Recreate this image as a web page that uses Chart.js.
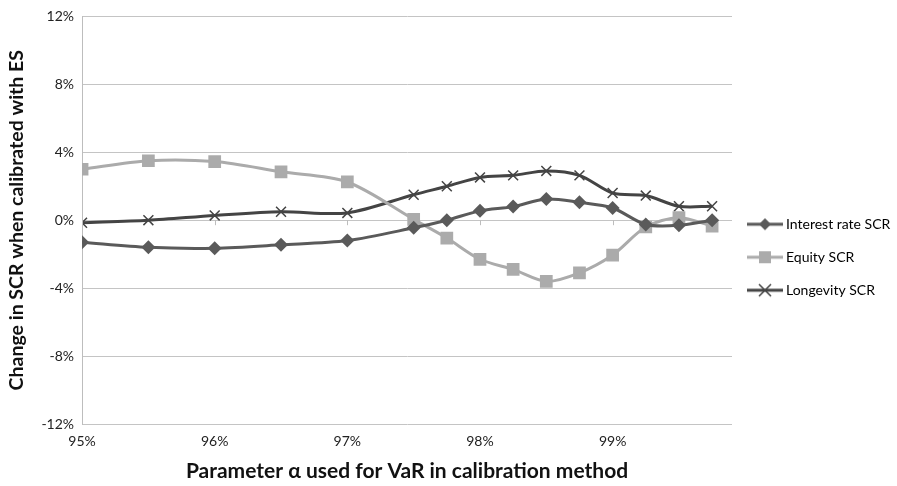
<!DOCTYPE html>
<html>
<head>
<meta charset="utf-8">
<script src="https://cdn.jsdelivr.net/npm/chart.js@4/dist/chart.umd.min.js"></script>
<style>
  html, body { margin: 0; padding: 0; background: #fff; }
  #wrap { width: 897px; height: 486px; }
</style>
</head>
<body>
<div id="wrap"><canvas id="scr-chart"></canvas></div>
<script>
// alpha levels (in %)
const alphas = [95, 95.5, 96, 96.5, 97, 97.5, 97.75, 98, 98.25, 98.5, 98.75, 99, 99.25, 99.5, 99.75];
// change in SCR (%)
const interestRate = [-1.3, -1.6, -1.65, -1.45, -1.2, -0.45, 0.0, 0.55, 0.8, 1.25, 1.05, 0.72, -0.25, -0.3, 0.0];
const equity = [3.0, 3.5, 3.45, 2.85, 2.25, 0.05, -1.05, -2.3, -2.9, -3.6, -3.1, -2.05, -0.4, 0.15, -0.35];
const longevity = [-0.15, 0.0, 0.28, 0.5, 0.43, 1.5, 2.0, 2.52, 2.64, 2.9, 2.64, 1.6, 1.45, 0.82, 0.82];
const xTicks = [95, 96, 97, 98, 99];
const yTicks = [-12, -8, -4, 0, 4, 8, 12];

const FONT = 'Lato, "Open Sans", sans-serif';

function toPoints(ys) {
    return alphas.map((a, i) => ({ x: a, y: ys[i] }));
}

// legend sample: short line with marker in the middle
function legendIcon(color, style) {
    const c = document.createElement('canvas');
    c.width = 36; c.height = 16;
    const g = c.getContext('2d');
    g.strokeStyle = color;
    g.fillStyle = color;
    g.lineWidth = 3;
    g.beginPath(); g.moveTo(0, 8); g.lineTo(36, 8); g.stroke();
    if (style === 'diamond') {
        g.beginPath(); g.moveTo(18, 2); g.lineTo(24, 8); g.lineTo(18, 14); g.lineTo(12, 8); g.closePath(); g.fill();
    } else if (style === 'square') {
        g.fillRect(12, 2, 12, 12);
    } else {
        g.lineWidth = 1.5;
        g.beginPath(); g.moveTo(12, 2); g.lineTo(24, 14); g.moveTo(24, 2); g.lineTo(12, 14); g.stroke();
    }
    return c;
}

const series = [
    { label: 'Interest rate SCR', data: interestRate, color: '#5a5a5a', style: 'rectRot', radius: 7, icon: 'diamond' },
    { label: 'Equity SCR', data: equity, color: '#ababab', style: 'rect', radius: 9, icon: 'square' },
    { label: 'Longevity SCR', data: longevity, color: '#444444', style: 'crossRot', radius: 7, icon: 'cross' }
];

// small downward tick marks on the 0% line, like the original
const zeroTicks = {
    id: 'zeroTicks',
    afterDatasetsDraw(chart) {
        const x = chart.scales.x, y = chart.scales.y;
        const y0 = y.getPixelForValue(0);
        const ctx = chart.ctx;
        ctx.save();
        ctx.strokeStyle = '#bdbdbd';
        ctx.lineWidth = 1;
        xTicks.forEach(v => {
            const px = Math.round(x.getPixelForValue(v)) + 0.5;
            ctx.beginPath(); ctx.moveTo(px, y0); ctx.lineTo(px, y0 + 5); ctx.stroke();
        });
        ctx.restore();
    }
};

// keep the legend column narrow so the plot keeps its width
const legendWidth = {
    id: 'legendWidth',
    afterInit(chart) {
        const lg = chart.legend;
        const fit = lg.fit;
        lg.fit = function () {
            fit.call(this);
            this.width = 165;
        };
    }
};

const ctx = document.getElementById('scr-chart').getContext('2d');
new Chart(ctx, {
    type: 'line',
    data: {
        datasets: series.map(s => ({
            label: s.label,
            data: toPoints(s.data),
            borderColor: s.color,
            backgroundColor: s.color,
            borderWidth: 3,
            pointStyle: s.style,
            pointRadius: s.radius,
            pointBorderWidth: s.style === 'crossRot' ? 1.5 : 0,
            pointBorderColor: s.color,
            pointBackgroundColor: s.color,
            tension: 0.3,
            fill: false,
            legendIcon: legendIcon(s.color, s.icon)
        }))
    },
    options: {
        responsive: true,
        maintainAspectRatio: false,
        animation: false,
        layout: { padding: { top: 8, right: 0, bottom: 2, left: 4 } },
        plugins: {
            tooltip: { enabled: false },
            legend: {
                position: 'right',
                title: { display: true, text: ' ', font: { size: 12 }, padding: 4 },
                labels: {
                    usePointStyle: true,
                    pointStyleWidth: 28,
                    color: '#000',
                    font: { family: FONT, size: 14 },
                    padding: 19,
                    generateLabels(chart) {
                        return chart.data.datasets.map((d, i) => ({
                            text: d.label,
                            pointStyle: d.legendIcon,
                            fillStyle: d.borderColor,
                            strokeStyle: d.borderColor,
                            lineWidth: 0,
                            hidden: false,
                            datasetIndex: i,
                            fontColor: '#000'
                        }));
                    }
                }
            }
        },
        scales: {
            x: {
                type: 'linear',
                min: 95,
                max: 99.9,
                afterBuildTicks(scale) { scale.ticks = xTicks.map(v => ({ value: v })); },
                grid: { display: false, drawTicks: false },
                border: { display: false },
                ticks: {
                    color: '#222',
                    font: { family: FONT, size: 14 },
                    padding: 9,
                    maxRotation: 0,
                    callback: v => v + '%'
                },
                title: {
                    display: true,
                    text: 'Parameter α used for VaR in calibration method',
                    color: '#111',
                    font: { family: FONT, size: 21, weight: 'bold' },
                    padding: { top: 0, bottom: 0 }
                }
            },
            y: {
                min: -12,
                max: 12,
                afterBuildTicks(scale) { scale.ticks = yTicks.map(v => ({ value: v })); },
                grid: { color: '#c4c4c4', lineWidth: 1, drawTicks: false },
                border: { display: true, color: '#bdbdbd' },
                ticks: {
                    color: '#222',
                    font: { family: FONT, size: 14 },
                    padding: 8,
                    callback: v => v + '%'
                },
                title: {
                    display: true,
                    text: 'Change in SCR when calibrated with ES',
                    color: '#111',
                    font: { family: FONT, size: 19.5, weight: 'bold' },
                    padding: { top: 1, bottom: 5 }
                }
            }
        }
    },
    plugins: [zeroTicks, legendWidth]
});
</script>
</body>
</html>
